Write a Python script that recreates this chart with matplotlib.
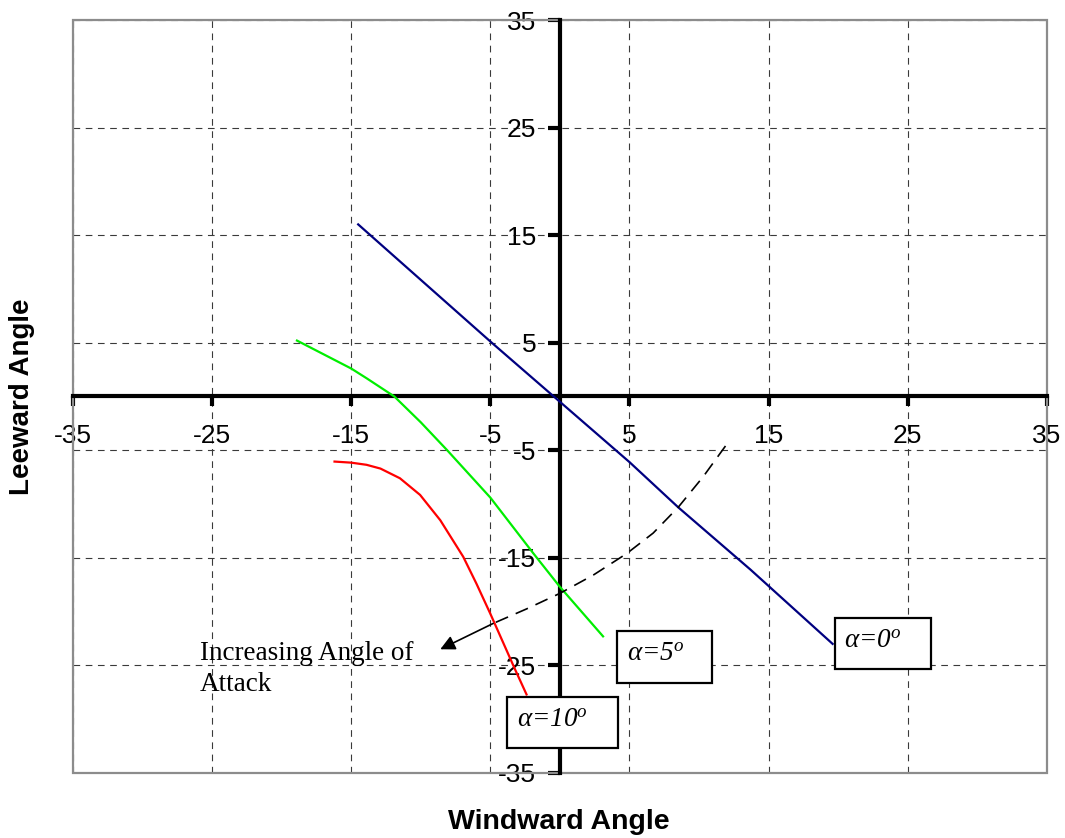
import numpy as np
import matplotlib
matplotlib.use("Agg")
import matplotlib.pyplot as plt
from matplotlib.patches import Rectangle

plt.rcParams["font.family"] = ["Liberation Sans", "DejaVu Sans"]
plt.rcParams["mathtext.fontset"] = "custom"
plt.rcParams["mathtext.it"] = "Liberation Serif:italic"
plt.rcParams["mathtext.rm"] = "Liberation Serif"

# curves (windward, leeward)
alpha0_x = [-14.5, -4.9, 5.0, 8.5, 13.7, 19.6]
alpha0_y = [16.0, 5.0, -6.1, -10.3, -16.1, -23.0]

alpha5_x = [-18.9, -15.0, -13.9, -11.9, -10.0, -8.1, -5.0, -1.9, 0.0, 3.1]
alpha5_y = [5.2, 2.6, 1.7, 0.0, -2.4, -5.0, -9.4, -14.6, -17.7, -22.3]

alpha10_x = [-16.2, -15.0, -13.9, -12.9, -11.5, -10.05, -8.6, -6.95, -6.0, -5.0, -3.25, -2.4]
alpha10_y = [-6.05, -6.15, -6.35, -6.7, -7.6, -9.15, -11.5, -14.9, -17.4, -20.2, -25.3, -27.7]

trend_x = [11.9, 10.3, 8.5, 6.7, 4.8, 2.4, 0.0, -2.4, -4.8]
trend_y = [-4.6, -7.45, -10.3, -12.7, -14.6, -16.6, -18.3, -19.75, -21.1]
arrow_tip = (-8.6, -23.5)

ticks = [-35, -25, -15, -5, 5, 15, 25, 35]

fig = plt.figure(figsize=(10.65, 8.38), dpi=100)
ax = fig.add_axes([0.0685, 0.0776, 0.9145, 0.8985])
ax.set_xlim(-35, 35)
ax.set_ylim(-35, 35)

ax.set_xticks(ticks)
ax.set_yticks(ticks)
ax.set_xticklabels([str(t) for t in ticks])
ax.set_yticklabels([str(t) for t in ticks])
ax.grid(True, color="#3a3a3a", lw=0.8, linestyle=(0, (6, 5)))
ax.set_axisbelow(True)

for s in ["top", "right"]:
    ax.spines[s].set_visible(False)
ax.spines["left"].set_position(("data", 0))
ax.spines["bottom"].set_position(("data", 0))
for s in ["left", "bottom"]:
    ax.spines[s].set_linewidth(3)
    ax.spines[s].set_color("black")
    ax.spines[s].set_zorder(2.6)

ax.tick_params(axis="x", direction="out", length=7, width=3, pad=13, labelsize=19)
ax.tick_params(axis="y", direction="out", length=9, width=3, pad=8, labelsize=19)

# grey outer frame
ax.add_patch(Rectangle((0, 0), 1, 1, transform=ax.transAxes, fill=False,
                       edgecolor="#8c8c8c", lw=1.6, clip_on=False, zorder=2.4))

ax.plot(alpha0_x, alpha0_y, color="#000080", lw=1.6, zorder=3)
ax.plot(alpha5_x, alpha5_y, color="#00ee00", lw=1.6, zorder=3)
ax.plot(alpha10_x, alpha10_y, color="#ff0000", lw=1.6, zorder=3)

ax.plot(trend_x, trend_y, color="black", lw=1.2, linestyle=(0, (8, 5)), zorder=3)
ax.annotate("", xy=arrow_tip, xytext=(trend_x[-1], trend_y[-1]),
            arrowprops=dict(arrowstyle="-|>", color="black", lw=1.2,
                            mutation_scale=22, shrinkA=0, shrinkB=0), zorder=3)

ax.text(-25.9, -25.35, "Increasing Angle of\nAttack", family="Liberation Serif",
        fontsize=19.5, ha="left", va="center", linespacing=1.3, zorder=4)

# label boxes: (left, bottom, width, height, text x, label)
boxes = [
    (19.8, -25.3, 6.9, 4.7, 20.45, "α=0$^o$"),
    (4.1, -26.6, 6.8, 4.8, 4.8, "α=5$^o$"),
    (-3.8, -32.7, 8.0, 4.8, -3.1, "α=10$^o$"),
]
for x0, y0, w, h, tx, lab in boxes:
    ax.add_patch(Rectangle((x0, y0), w, h, facecolor="white", edgecolor="black",
                           lw=1.6, zorder=5))
    ax.text(tx, y0 + h / 2 + 0.2, lab, family="Liberation Serif", style="italic",
            fontsize=19.5, ha="left", va="center", zorder=6)

fig.text(0.525, 0.019, "Windward Angle", ha="center", va="center",
         fontsize=20.5, fontweight="bold")
fig.text(0.0207, 0.526, "Leeward Angle", ha="center", va="center",
         fontsize=20, fontweight="bold", rotation=90)

fig.savefig("out.png", dpi=100)
